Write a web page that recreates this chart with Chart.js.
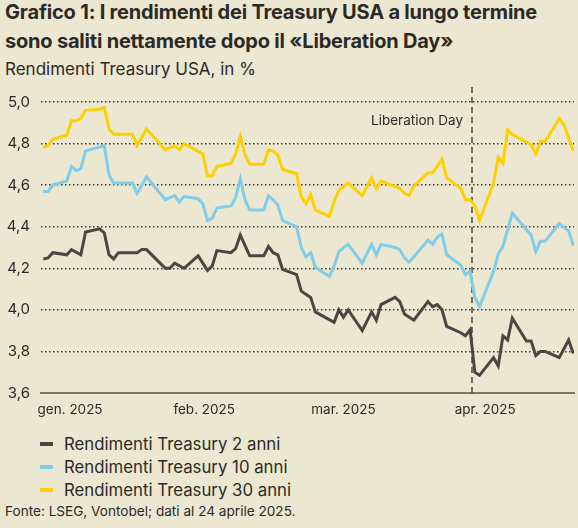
<!DOCTYPE html>
<html lang="it">
<head>
<meta charset="utf-8">
<title>Grafico 1: rendimenti Treasury USA</title>
<script src="https://cdn.jsdelivr.net/npm/chart.js@4.4.1/dist/chart.umd.min.js"></script>
<style>
  html, body { margin: 0; padding: 0; }
  body {
    width: 578px; height: 528px; position: relative; overflow: hidden;
    background: #ece7d1; color: #2b2a27;
    font-family: Inter, 'Noto Sans', sans-serif;
  }
  .title { position: absolute; left: 5px; top: -2px; margin: 0; font-size: 20px; font-weight: 700; line-height: 29px; letter-spacing: -0.2px; }
  .subtitle { position: absolute; left: 5px; top: 59px; margin: 0; font-size: 17px; font-weight: 400; }
  .chart-box { position: absolute; left: 0; top: 80px; width: 578px; height: 345px; }
  .legend { position: absolute; left: 40px; top: 432px; margin: 0; padding: 0; list-style: none; font-size: 16.8px; }
  .legend li { display: flex; align-items: center; height: 23px; }
  .legend .swatch { width: 13px; height: 4px; margin-right: 11px; }
  .source { position: absolute; left: 5px; top: 503px; margin: 0; font-size: 13.6px; }
</style>
</head>
<body>
<h1 class="title">Grafico 1: I rendimenti dei Treasury USA a lungo termine<br>sono saliti nettamente dopo il «Liberation Day»</h1>
<h2 class="subtitle">Rendimenti Treasury USA, in %</h2>
<div class="chart-box"><canvas id="chart"></canvas></div>
<ul class="legend" id="legend"></ul>
<p class="source">Fonte: LSEG, Vontobel; dati al 24 aprile 2025.</p>

<script>
// giorni dal 1° gennaio 2025 (0 = 1 gen.)
const days2y = [0, 1, 2, 5, 6, 8, 9, 12, 13, 14, 15, 16, 20, 21, 22, 26, 27, 28, 30, 33, 35, 36, 37, 40, 41, 42, 44, 47, 48, 49, 50, 51, 54, 55, 57, 58, 62, 63, 64, 65, 68, 70, 71, 72, 75, 76, 77, 79, 82, 83, 84, 85, 86, 89, 90, 91, 92, 93, 96, 97, 98, 99, 100, 103, 104, 105, 106, 107, 110, 112, 113]
const yields2y = [4.245, 4.25, 4.275, 4.265, 4.29, 4.265, 4.375, 4.39, 4.37, 4.265, 4.245, 4.275, 4.275, 4.29, 4.29, 4.2, 4.2, 4.225, 4.2, 4.26, 4.19, 4.21, 4.285, 4.275, 4.295, 4.36, 4.26, 4.26, 4.305, 4.275, 4.265, 4.195, 4.17, 4.09, 4.06, 3.99, 3.94, 4.0, 3.965, 4.0, 3.9, 3.99, 3.95, 4.025, 4.06, 4.04, 3.98, 3.95, 4.04, 4.015, 4.025, 4.0, 3.92, 3.89, 3.875, 3.905, 3.7, 3.685, 3.77, 3.73, 3.875, 3.855, 3.96, 3.85, 3.85, 3.78, 3.8, 3.8, 3.77, 3.855, 3.79]

const days10y = [0, 1, 2, 5, 6, 7, 8, 9, 13, 14, 15, 19, 20, 22, 26, 28, 29, 30, 33, 34, 35, 36, 37, 40, 41, 42, 43, 44, 47, 48, 49, 50, 51, 54, 55, 56, 57, 58, 61, 62, 63, 65, 68, 70, 71, 72, 75, 76, 77, 78, 79, 82, 83, 84, 85, 86, 89, 90, 91, 92, 93, 96, 97, 98, 100, 104, 105, 106, 107, 110, 112, 113]
const yields10y = [4.57, 4.57, 4.6, 4.62, 4.69, 4.67, 4.68, 4.765, 4.79, 4.65, 4.61, 4.61, 4.56, 4.64, 4.53, 4.55, 4.52, 4.545, 4.535, 4.51, 4.43, 4.44, 4.49, 4.5, 4.54, 4.63, 4.53, 4.48, 4.48, 4.55, 4.53, 4.505, 4.43, 4.4, 4.3, 4.255, 4.275, 4.205, 4.16, 4.21, 4.28, 4.315, 4.225, 4.315, 4.265, 4.315, 4.3, 4.29, 4.25, 4.23, 4.255, 4.335, 4.315, 4.35, 4.365, 4.265, 4.215, 4.17, 4.185, 4.06, 4.015, 4.185, 4.27, 4.305, 4.465, 4.36, 4.28, 4.33, 4.33, 4.415, 4.38, 4.31]

const days30y = [0, 1, 2, 5, 6, 7, 8, 9, 12, 13, 14, 15, 19, 20, 22, 26, 28, 29, 30, 34, 35, 36, 37, 40, 41, 42, 43, 44, 47, 48, 49, 50, 51, 54, 55, 56, 57, 58, 61, 62, 63, 65, 68, 70, 71, 72, 76, 77, 78, 79, 82, 83, 84, 85, 86, 89, 90, 91, 92, 93, 96, 97, 98, 99, 100, 104, 105, 106, 107, 110, 111, 113]
const yields30y = [4.78, 4.79, 4.82, 4.84, 4.91, 4.91, 4.92, 4.96, 4.965, 4.975, 4.87, 4.845, 4.845, 4.79, 4.87, 4.77, 4.79, 4.77, 4.8, 4.75, 4.645, 4.645, 4.69, 4.705, 4.75, 4.835, 4.745, 4.7, 4.7, 4.77, 4.765, 4.745, 4.675, 4.655, 4.545, 4.51, 4.555, 4.48, 4.45, 4.52, 4.575, 4.61, 4.55, 4.635, 4.585, 4.62, 4.585, 4.56, 4.55, 4.595, 4.66, 4.66, 4.69, 4.725, 4.635, 4.585, 4.53, 4.53, 4.5, 4.43, 4.61, 4.735, 4.705, 4.865, 4.845, 4.795, 4.75, 4.81, 4.81, 4.92, 4.89, 4.765]

const tickDays = [5.7, 34.3, 64, 94.2]
const tickLabels = ['gen. 2025', 'feb. 2025', 'mar. 2025', 'apr. 2025']
const yTicks = [3.6, 3.8, 4.0, 4.2, 4.4, 4.6, 4.8, 5.0]
const liberationDay = 91.4
const liberationLabel = 'Liberation Day'

const fontFamily = 'Inter, "Noto Sans", sans-serif'
const toPoints = (days, values) => days.map((d, i) => ({ x: d, y: values[i] }))

// linea tratteggiata verticale + etichetta
const eventLine = {
  id: 'eventLine',
  beforeDatasetsDraw (chart) {
    const { ctx, chartArea, scales } = chart
    const x = scales.x.getPixelForValue(liberationDay)
    ctx.save()
    ctx.strokeStyle = '#4a4844'
    ctx.lineWidth = 1.5
    ctx.setLineDash([6, 4])
    ctx.beginPath()
    ctx.moveTo(x, chartArea.top - 15)
    ctx.lineTo(x, chartArea.bottom)
    ctx.stroke()
    ctx.setLineDash([])
    ctx.fillStyle = '#2b2a27'
    ctx.font = `13.5px ${fontFamily}`
    ctx.textAlign = 'right'
    ctx.textBaseline = 'middle'
    ctx.fillText(liberationLabel, x - 9, chartArea.top + 19)
    ctx.restore()
  }
}

const chart = new Chart(document.getElementById('chart'), {
  type: 'line',
  data: {
    datasets: [
      { label: 'Rendimenti Treasury 2 anni', data: toPoints(days2y, yields2y), borderColor: '#4b4641' },
      { label: 'Rendimenti Treasury 10 anni', data: toPoints(days10y, yields10y), borderColor: '#7fcdea' },
      { label: 'Rendimenti Treasury 30 anni', data: toPoints(days30y, yields30y), borderColor: '#ffd000' }
    ]
  },
  options: {
    responsive: true,
    maintainAspectRatio: false,
    animation: false,
    layout: { padding: { top: 22, right: 4, bottom: 0, left: 0 } },
    elements: {
      point: { radius: 0 },
      line: { borderWidth: 3, tension: 0 }
    },
    plugins: {
      legend: { display: false },
      tooltip: { enabled: false }
    },
    scales: {
      x: {
        type: 'linear',
        min: -0.5,
        max: 113.15,
        afterBuildTicks: scale => { scale.ticks = tickDays.map(value => ({ value })) },
        afterFit: scale => { scale.height = 32 },
        grid: { display: false, drawTicks: false },
        border: { display: true, color: '#7a766c', width: 2 },
        ticks: {
          autoSkip: false,
          maxRotation: 0,
          padding: 9,
          color: '#2b2a27',
          font: { family: fontFamily, size: 13.5 },
          callback: (value, index) => tickLabels[index]
        }
      },
      y: {
        min: 3.6,
        max: 5.0,
        afterBuildTicks: scale => { scale.ticks = yTicks.map(value => ({ value })) },
        afterFit: scale => { scale.width = 41 },
        grid: {
          drawTicks: false,
          lineWidth: 1.5,
          color: ctx => ctx.index === 0 ? 'transparent' : '#3b3a36'
        },
        border: { display: false, dash: [1.5, 2.5] },
        ticks: {
          padding: 11,
          color: '#2b2a27',
          font: { family: fontFamily, size: 15 },
          callback: value => value.toFixed(1).replace('.', ',')
        }
      }
    }
  },
  plugins: [eventLine]
})

// legenda HTML, una voce per riga
const legend = document.getElementById('legend')
chart.data.datasets.forEach(ds => {
  const li = document.createElement('li')
  const swatch = document.createElement('span')
  swatch.className = 'swatch'
  swatch.style.background = ds.borderColor
  li.append(swatch, ds.label)
  legend.append(li)
})
</script>
</body>
</html>
